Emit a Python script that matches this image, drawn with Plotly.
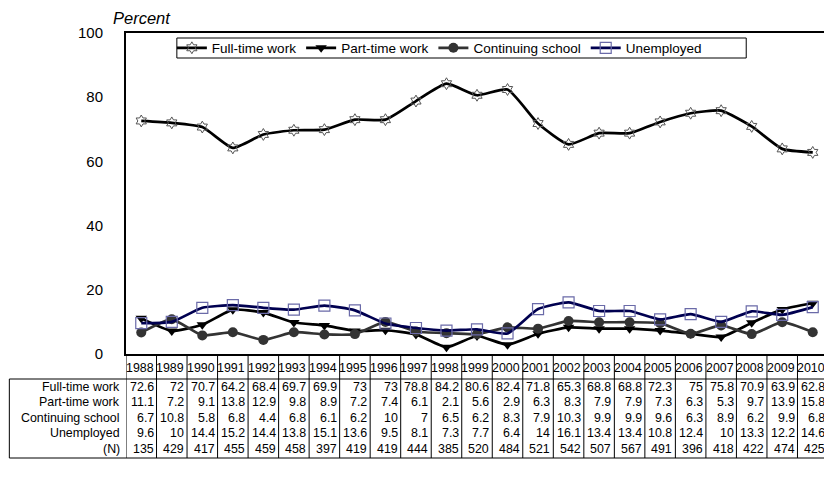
import plotly.graph_objects as go

YEARS = list(range(1988, 2011))
FULL_TIME = [72.6, 72, 70.7, 64.2, 68.4, 69.7, 69.9, 73, 73, 78.8, 84.2, 80.6,
             82.4, 71.8, 65.3, 68.8, 68.8, 72.3, 75, 75.8, 70.9, 63.9, 62.8]
PART_TIME = [11.1, 7.2, 9.1, 13.8, 12.9, 9.8, 8.9, 7.2, 7.4, 6.1, 2.1, 5.6,
             2.9, 6.3, 8.3, 7.9, 7.9, 7.3, 6.3, 5.3, 9.7, 13.9, 15.8]
SCHOOL = [6.7, 10.8, 5.8, 6.8, 4.4, 6.8, 6.1, 6.2, 10, 7, 6.5, 6.2,
          8.3, 7.9, 10.3, 9.9, 9.9, 9.6, 6.3, 8.9, 6.2, 9.9, 6.8]
UNEMPLOYED = [9.6, 10, 14.4, 15.2, 14.4, 13.8, 15.1, 13.6, 9.5, 8.1, 7.3, 7.7,
              6.4, 14, 16.1, 13.4, 13.4, 10.8, 12.4, 10, 13.3, 12.2, 14.6]
N_COUNTS = [135, 429, 417, 455, 459, 458, 397, 419, 419, 444, 385, 520,
            484, 521, 542, 507, 567, 491, 396, 418, 422, 474, 425]

ROW_LABELS = ["Full-time work", "Part-time work", "Continuing school", "Unemployed", "(N)"]
ROWS = [FULL_TIME, PART_TIME, SCHOOL, UNEMPLOYED, N_COUNTS]

# page body has an 8px margin, so the figure is drawn 8px smaller
OFF = 8
W, H = 832 - OFF, 478 - OFF
PLOT_LEFT, PLOT_RIGHT = 126, 830      # screen pixels
PLOT_TOP, PLOT_BOTTOM = 33, 354
M_L = PLOT_LEFT - OFF
M_R = W - (PLOT_RIGHT - OFF)
M_T = PLOT_TOP - OFF
M_B = H - (PLOT_BOTTOM - OFF)
PLOT_W = PLOT_RIGHT - PLOT_LEFT
PLOT_H = PLOT_BOTTOM - PLOT_TOP
FONT = "Liberation Sans, Arial, sans-serif"
TABLE_FONT = 12.4


def py(y):
    # screen pixel row -> paper y
    return (PLOT_BOTTOM - y) / PLOT_H


def px(x):
    return (x - PLOT_LEFT) / PLOT_W


series = [
    ("Full-time work", FULL_TIME, "#000000", dict(symbol="hexagram-open", size=9, color="#555555", line=dict(width=1, color="#555555"))),
    ("Part-time work", PART_TIME, "#000000", dict(symbol="triangle-down", size=10, color="#000000")),
    ("Continuing school", SCHOOL, "#333333", dict(symbol="circle", size=10, color="#333333")),
    ("Unemployed", UNEMPLOYED, "#000050", dict(symbol="square-open", size=11, color="#6a6aa8", line=dict(width=1.2, color="#6a6aa8"))),
]

fig = go.Figure()
for name, vals, color, marker in series:
    fig.add_trace(go.Scatter(
        x=YEARS, y=vals, name=name, mode="lines+markers",
        line=dict(color=color, width=2.7, shape="spline", smoothing=0.5),
        marker=marker, cliponaxis=False,
    ))

shapes = []
# vertical table lines at column edges
for k in range(len(YEARS) + 1):
    shapes.append(dict(type="line", xref="x", yref="paper",
                       x0=YEARS[0] - 0.5 + k, x1=YEARS[0] - 0.5 + k,
                       y0=py(458), y1=0, line=dict(color="black", width=1)))
shapes.append(dict(type="line", xref="paper", yref="paper", x0=px(9), x1=px(9),
                   y0=py(458), y1=py(379), line=dict(color="black", width=1)))
for yy in (379, 458):
    shapes.append(dict(type="line", xref="paper", yref="paper", x0=px(9), x1=1,
                       y0=py(yy), y1=py(yy), line=dict(color="black", width=1)))
# legend frame
shapes.append(dict(type="rect", xref="paper", yref="paper", x0=px(177), x1=px(748),
                   y0=py(58), y1=py(38), line=dict(color="black", width=1),
                   fillcolor="white", layer="above"))

annotations = [dict(text="<i>Percent</i>", xref="paper", yref="paper", x=px(112), y=py(8),
                    xanchor="left", yanchor="top", showarrow=False, borderpad=0,
                    font=dict(size=16.5, family=FONT, color="black"))]

row_y = [387, 402, 418, 433, 449]
for yr in YEARS:
    annotations.append(dict(text=str(yr), xref="x", yref="paper", x=yr + 0.47, y=py(368),
                            xanchor="right", yanchor="middle", showarrow=False,
                            font=dict(size=TABLE_FONT, family=FONT, color="black")))
for label, vals, yy in zip(ROW_LABELS, ROWS, row_y):
    annotations.append(dict(text=label, xref="paper", yref="paper", x=px(122), y=py(yy),
                            xanchor="right", yanchor="middle", showarrow=False,
                            font=dict(size=TABLE_FONT, family=FONT, color="black")))
    for yr, v in zip(YEARS, vals):
        annotations.append(dict(text=f"{v:g}", xref="x", yref="paper", x=yr + 0.47, y=py(yy),
                                xanchor="right", yanchor="middle", showarrow=False,
                                font=dict(size=TABLE_FONT, family=FONT, color="black")))

fig.update_layout(
    width=W, height=H,
    margin=dict(l=M_L, r=M_R, t=M_T, b=M_B, pad=0),
    paper_bgcolor="white", plot_bgcolor="white",
    font=dict(family=FONT, size=13, color="black"),
    showlegend=True,
    legend=dict(orientation="h", x=px(172), y=py(48), xanchor="left", yanchor="middle",
                bgcolor="rgba(0,0,0,0)", borderwidth=0,
                font=dict(size=13.5, family=FONT), itemwidth=30,
                tracegroupgap=0),
    xaxis=dict(range=[YEARS[0] - 0.5, YEARS[-1] + 0.5], showticklabels=False, ticks="",
               showgrid=False, zeroline=False, showline=True, linecolor="black", linewidth=2,
               mirror=True, fixedrange=True),
    yaxis=dict(range=[0, 100], tickvals=[0, 20, 40, 60, 80, 100], ticks="",
               showgrid=False, zeroline=False, showline=True, linecolor="black", linewidth=2,
               mirror=True, ticklabelstandoff=18, tickfont=dict(size=15, family=FONT),
               fixedrange=True),
    shapes=shapes, annotations=annotations,
)

fig.write_html("out.html", config={"displayModeBar": False})
